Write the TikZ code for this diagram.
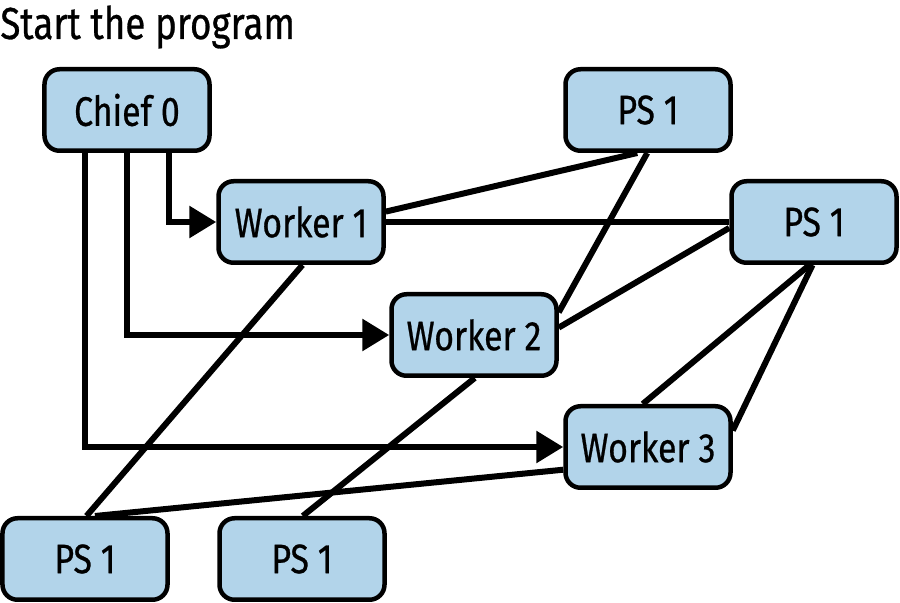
\documentclass[tikz,border=0pt]{standalone}
\usepackage{fontspec}
\setmainfont[FakeStretch=0.82,FakeBold=0.6]{Fira Sans}
\usetikzlibrary {positioning,arrows.meta}
\definecolor{boxblue}{RGB}{178,212,234}
\begin{document}
\begin{tikzpicture}[
  box/.style={draw=black,line width=0.09cm,fill=boxblue,rounded corners=0.3cm,
    minimum width=3.3cm,minimum height=1.63cm,inner sep=0pt,font=\fontsize{23.5}{26}\selectfont},
  link/.style={line width=0.12cm},
  arr/.style={line width=0.12cm,-{Triangle[length=0.54cm,width=0.62cm]}}
]
\useasboundingbox (0,0) rectangle (18,12.06);

\node[anchor=base west,inner sep=0pt,font=\fontsize{25.5}{28}\selectfont] (title) at (0,11.28) {Start the program};

\node[box] (chief) at (2.54,9.86) {Chief 0};

\node[box] (w1) at (6.02,7.62) {Worker 1};

\node[box] (w2) at (9.48,5.36) {Worker 2};

\node[box] (w3) at (12.96,3.12) {Worker 3};

\node[box] (psa) at (12.96,9.86) {PS 1};

\node[box] (psb) at (16.28,7.62) {PS 1};

\node[box] (psc) at (1.70,0.88) {PS 1};

\node[box] (psd) at (6.04,0.88) {PS 1};

\draw[arr] ([xshift=0.84cm]chief.south) |- (w1.west);

\draw[arr] (chief.south) |- (w2.west);

\draw[arr] ([xshift=-0.84cm]chief.south) |- (w3.west);

\draw[link] (w1.7) -- (psa.-104);

\draw[link] (w1.0) -- (psb.180);

\draw[link] (w1.-88) -- (psc.88);

\draw[link] (w2.15) -- (psa.-91);

\draw[link] (w2.5) -- (psb.-176);

\draw[link] (w2.-89) -- (psd.89);

\draw[link] (w3.97) -- (psb.-96);

\draw[link] (w3.11) -- (psb.-92);

\draw[link] (w3.195) -- (psc.77);

\end{tikzpicture}
\end{document}
